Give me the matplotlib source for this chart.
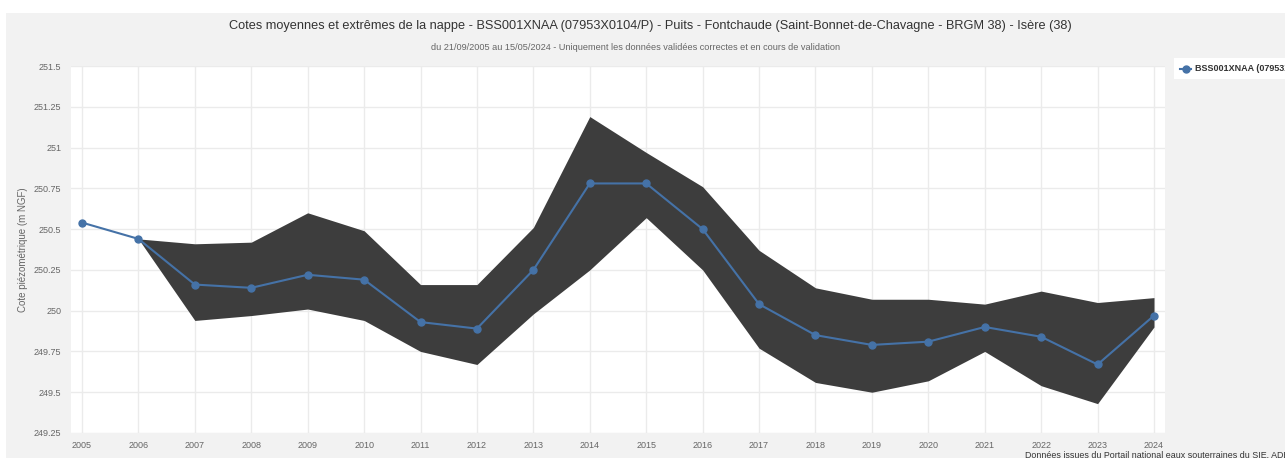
import matplotlib.pyplot as plt
from matplotlib.patches import Rectangle
from matplotlib.lines import Line2D

plt.rcParams['font.family'] = ['Liberation Sans', 'DejaVu Sans']

# yearly values
years = list(range(2005, 2025))
moyenne = [250.54, 250.44, 250.16, 250.14, 250.22, 250.19, 249.93, 249.89, 250.25, 250.78,
           250.78, 250.50, 250.04, 249.85, 249.79, 249.81, 249.90, 249.84, 249.67, 249.97]
band_years = list(range(2006, 2025))
maxi = [250.44, 250.41, 250.42, 250.60, 250.49, 250.16, 250.16, 250.51, 251.19, 250.97,
        250.76, 250.37, 250.14, 250.07, 250.07, 250.04, 250.12, 250.05, 250.08]
mini = [250.44, 249.94, 249.97, 250.01, 249.94, 249.75, 249.67, 249.98, 250.25, 250.57,
        250.25, 249.77, 249.56, 249.50, 249.57, 249.75, 249.54, 249.43, 249.90]
yticks = [249.25, 249.5, 249.75, 250, 250.25, 250.5, 250.75, 251, 251.25, 251.5]
ytick_labels = ["249.25", "249.5", "249.75", "250", "250.25", "250.5", "250.75", "251", "251.25", "251.5"]

W, H = 1285, 458
fig = plt.figure(figsize=(W / 100, H / 100), dpi=100, facecolor='white')

# grey chart background
fig.patches.append(Rectangle((6 / W, 0), 1 - 6 / W, 1 - 13 / H, transform=fig.transFigure,
                             facecolor='#f2f2f2', edgecolor='none', zorder=-2))

ax = fig.add_axes([71 / W, 1 - 433 / H, (1165 - 71) / W, (433 - 66) / H])
ax.set_facecolor('white')

ax.fill_between(band_years, mini, maxi, color='#3d3d3d', linewidth=0, zorder=2)
ax.plot(years, moyenne, color='#4572a7', linewidth=1.5, marker='o', markersize=5, zorder=3)

ax.set_xlim(2004.805, 2024.195)
ax.set_ylim(249.25, 251.5)
ax.set_xticks(years)
ax.set_xticklabels([str(y) for y in years])
ax.set_yticks(yticks)
ax.set_yticklabels(ytick_labels)
ax.grid(True, color='#ebebeb', linewidth=1, zorder=0)
ax.set_axisbelow(True)
ax.tick_params(axis='both', length=0, labelsize=6.5, labelcolor='#666666')
ax.tick_params(axis='x', pad=6)
ax.tick_params(axis='y', pad=7)
for s in ax.spines.values():
    s.set_visible(False)

ax.set_ylabel("Cote piézométrique (m NGF)", fontsize=7, color='#666666')
ax.yaxis.set_label_coords(-43 / (1165 - 71), 0.5)

fig.text(650 / W, 1 - 26 / H,
         "Cotes moyennes et extrêmes de la nappe - BSS001XNAA (07953X0104/P) - Puits - Fontchaude "
         "(Saint-Bonnet-de-Chavagne - BRGM 38) - Isère (38)",
         ha='center', va='center', fontsize=9.2, color='#333333')
fig.text(636 / W, 1 - 48 / H,
         "du 21/09/2005 au 15/05/2024 - Uniquement les données validées correctes et en cours de validation",
         ha='center', va='center', fontsize=6.6, color='#666666')

# legend box, cut at the right edge like the original
fig.patches.append(Rectangle((1174 / W, 1 - 79 / H), (W - 1174) / W, 21 / H, transform=fig.transFigure,
                             facecolor='white', edgecolor='none', zorder=1))
fig.lines.append(Line2D([1180 / W, 1191 / W], [1 - 68.5 / H, 1 - 68.5 / H], transform=fig.transFigure,
                        color='#4572a7', linewidth=1.5, zorder=2))
fig.lines.append(Line2D([1185.5 / W], [1 - 68.5 / H], transform=fig.transFigure,
                        color='#4572a7', marker='o', markersize=5, linestyle='none', zorder=3))
fig.text(1195 / W, 1 - 68.5 / H, "BSS001XNAA (07953X0104/P)", ha='left', va='center',
         fontsize=6.5, fontweight='bold', color='#333333')

fig.text(1025 / W, 1 - 451 / H, "Données issues du Portail national eaux souterraines du SIE, ADES",
         ha='left', va='top', fontsize=6.4, color='#333333')

fig.savefig('out.png', dpi=100, facecolor='white')
